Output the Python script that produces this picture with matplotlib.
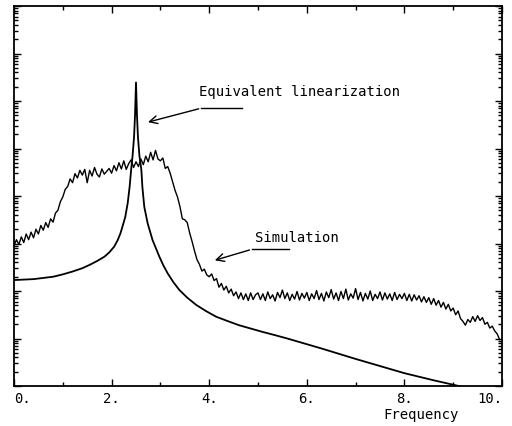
import numpy as np
import matplotlib.pyplot as plt
from matplotlib.ticker import LogLocator, MultipleLocator, NullFormatter

# simulation spectrum, log10 values, one every 0.05 in frequency
sim_step = 0.05
sim_log = [
    2.95, 3.08, 2.98, 3.14, 3.02, 3.20, 3.08, 3.24, 3.12, 3.30,
    3.20, 3.38, 3.28, 3.44, 3.34, 3.52, 3.45, 3.64, 3.70, 3.88,
    3.98, 4.14, 4.20, 4.36, 4.28, 4.47, 4.38, 4.54, 4.44, 4.56,
    4.28, 4.54, 4.42, 4.60, 4.46, 4.40, 4.57, 4.46, 4.52, 4.58,
    4.48, 4.64, 4.53, 4.70, 4.57, 4.74, 4.56, 4.68, 4.76, 4.60,
    4.72, 4.62, 4.78, 4.66, 4.84, 4.72, 4.92, 4.76, 4.96, 4.78,
    4.74, 4.80, 4.58, 4.62, 4.48, 4.30, 4.12, 3.98, 3.78, 3.52,
    3.50, 3.44, 3.22, 3.04, 2.84, 2.66, 2.56, 2.42, 2.46, 2.34,
    2.30, 2.36, 2.22, 2.26, 2.08, 2.16, 2.02, 2.10, 1.96, 2.04,
    1.90, 1.98, 1.84, 1.96, 1.82, 1.94, 1.80, 1.96, 1.82, 1.92,
    1.96, 1.82, 1.94, 1.80, 1.98, 1.84, 1.92, 1.79, 1.97, 1.86,
    2.02, 1.84, 1.96, 1.80, 1.93, 1.83, 1.99, 1.81, 1.95, 1.85,
    1.97, 1.80, 1.94, 1.84, 2.01, 1.82, 1.95, 1.79, 1.98, 1.86,
    2.03, 1.83, 1.96, 1.80, 1.99, 1.84, 2.04, 1.81, 1.94, 1.85,
    2.05, 1.82, 1.97, 1.79, 1.95, 1.83, 2.00, 1.80, 1.93, 1.84,
    1.98, 1.81, 1.96, 1.83, 1.94, 1.80, 1.97, 1.82, 1.93, 1.84,
    1.95, 1.80, 1.93, 1.79, 1.92, 1.81, 1.90, 1.77, 1.88, 1.76,
    1.86, 1.72, 1.84, 1.70, 1.80, 1.66, 1.76, 1.62, 1.72, 1.58,
    1.64, 1.50, 1.58, 1.42, 1.36, 1.28, 1.40, 1.34, 1.46, 1.36,
    1.48, 1.38, 1.44, 1.30, 1.34, 1.22, 1.26, 1.16, 1.10, 0.98,
]
sim_freq = np.arange(len(sim_log)) * sim_step

# equivalent linearization, log10 values
lin_freq = [0.0, 0.4, 0.8, 1.0, 1.2, 1.4, 1.55, 1.7, 1.85, 1.95, 2.05, 2.12,
            2.18, 2.23, 2.28, 2.33, 2.37, 2.40, 2.43, 2.46, 2.48, 2.50, 2.52,
            2.54, 2.57, 2.61, 2.63, 2.67, 2.74, 2.84, 2.90, 2.98, 3.06, 3.15,
            3.27, 3.39, 3.55, 3.73, 3.93, 4.14, 4.37, 4.61, 4.85, 5.09, 5.35,
            5.6, 6.3, 7.0, 7.5, 8.0, 8.6, 9.2, 9.6, 10.0]
lin_log = [2.23, 2.25, 2.30, 2.35, 2.41, 2.48, 2.55, 2.63, 2.72, 2.81, 2.93,
           3.06, 3.21, 3.38, 3.56, 3.85, 4.20, 4.55, 4.85, 5.24, 5.70, 6.39,
           5.70, 5.24, 4.85, 4.55, 4.20, 3.77, 3.42, 3.07, 2.92, 2.72, 2.54,
           2.37, 2.18, 2.02, 1.86, 1.71, 1.58, 1.46, 1.37, 1.28, 1.21, 1.14,
           1.07, 1.00, 0.79, 0.57, 0.42, 0.27, 0.12, -0.02, -0.10, -0.18]

x_ticks = [0, 2, 4, 6, 8, 10]
x_tick_labels = ['0.', '2.', '4.', '6.', '8.', '10.']

plt.rcParams['font.family'] = 'DejaVu Sans Mono'
plt.rcParams['font.size'] = 10

fig = plt.figure(figsize=(5.12, 4.26), dpi=100)
ax = fig.add_axes([14 / 512, 40 / 426, 488 / 512, 380 / 426])

ax.semilogy(sim_freq, 10 ** np.array(sim_log), color='black', lw=1.0)
ax.semilogy(lin_freq, 10 ** np.array(lin_log), color='black', lw=1.3)

ax.set_xlim(0, 10)
ax.set_ylim(1, 1e8)

ax.set_xticks(x_ticks)
ax.set_xticklabels(x_tick_labels)
ax.xaxis.set_minor_locator(MultipleLocator(1))
labels = ax.get_xticklabels()
labels[0].set_ha('left')
labels[-1].set_ha('right')

ax.yaxis.set_major_locator(LogLocator(base=10, numticks=20))
ax.yaxis.set_minor_locator(LogLocator(base=10, subs=np.arange(2, 10), numticks=20))
ax.yaxis.set_major_formatter(NullFormatter())
ax.yaxis.set_minor_formatter(NullFormatter())
ax.tick_params(which='both', direction='in', top=True, right=True, width=1.0)
ax.tick_params(which='major', length=5, pad=4)
ax.tick_params(which='minor', length=3)
for s in ax.spines.values():
    s.set_linewidth(1.3)

# annotations
arrow = dict(arrowstyle='->', color='black', lw=1.0, mutation_scale=14)
ax.text(3.80, 10 ** 6.19, 'Equivalent linearization', ha='left', va='center')
ax.plot([3.84, 4.67], [10 ** 5.85, 10 ** 5.85], color='black', lw=1.0)
ax.annotate('', xy=(2.69, 10 ** 5.54), xytext=(3.84, 10 ** 5.85), arrowprops=arrow)

ax.text(4.94, 10 ** 3.12, 'Simulation', ha='left', va='center')
ax.plot([4.88, 5.63], [10 ** 2.88, 10 ** 2.88], color='black', lw=1.0)
ax.annotate('', xy=(4.06, 10 ** 2.63), xytext=(4.88, 10 ** 2.88), arrowprops=arrow)

fig.text(421 / 512, 1 - 415 / 426, 'Frequency', ha='center', va='center')

plt.savefig('out.png')
